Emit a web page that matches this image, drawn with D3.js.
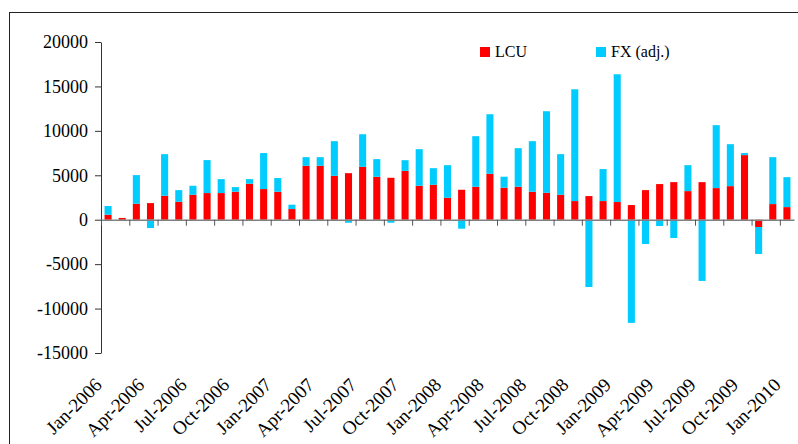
<!DOCTYPE html>
<html lang="en">
<head>
<meta charset="UTF-8">
<title>LCU and FX</title>
<style>
  body { margin: 0; background: #fff; }
  svg { display: block; }
</style>
</head>
<body>
<div id="chart"></div>
<script src="https://d3js.org/d3.v7.min.js"></script>
<script>
// monthly categories, Jan-2006 .. Jan-2010
const months = [
  "Jan-2006","Feb-2006","Mar-2006","Apr-2006","May-2006","Jun-2006","Jul-2006","Aug-2006","Sep-2006","Oct-2006","Nov-2006","Dec-2006",
  "Jan-2007","Feb-2007","Mar-2007","Apr-2007","May-2007","Jun-2007","Jul-2007","Aug-2007","Sep-2007","Oct-2007","Nov-2007","Dec-2007",
  "Jan-2008","Feb-2008","Mar-2008","Apr-2008","May-2008","Jun-2008","Jul-2008","Aug-2008","Sep-2008","Oct-2008","Nov-2008","Dec-2008",
  "Jan-2009","Feb-2009","Mar-2009","Apr-2009","May-2009","Jun-2009","Jul-2009","Aug-2009","Sep-2009","Oct-2009","Nov-2009","Dec-2009",
  "Jan-2010"
];
const lcu = [560,200,1800,1870,2700,2020,2810,3000,3000,3150,4050,3450,
             3150,1200,6070,6070,4940,5240,5950,4830,4720,5500,3820,3930,
             2470,3370,3710,5170,3600,3710,3150,3030,2810,2100,2660,2100,
             1990,1650,3330,4010,4230,3220,4230,3560,3780,7270,-820,1760,
             1420];
const fx = [980,0,3220,-940,4680,1310,1010,3710,1570,520,520,4050,
            1540,490,970,970,3900,-340,3670,1990,-340,1200,4120,1870,
            3670,-1010,5690,6700,1240,4340,5690,9180,4570,12580,-7570,3600,
            14380,-11610,-2730,-710,-2060,2920,-6890,7080,4720,230,-3030,5280,
            3370];
const yTicks = [-15000,-10000,-5000,0,5000,10000,15000,20000];
const seriesNames = ["LCU", "FX (adj.)"];
const seriesColors = ["#ff0000", "#00ccff"];

const W = 798, H = 444;
const margin = {left: 101, right: 794, top: 42, bottom: 353};
const serif = '"Liberation Serif", "Times New Roman", serif';

const svg = d3.select("#chart").append("svg")
  .attr("width", W).attr("height", H)
  .attr("font-family", serif);

// outer frame
svg.append("rect")
  .attr("x", 9.5).attr("y", 12.5)
  .attr("width", 900).attr("height", 600)
  .attr("fill", "none").attr("stroke", "#222").attr("stroke-width", 1);

const rows = months.map((m, i) => ({month: m, lcu: lcu[i], fx: fx[i]}));
const stacked = d3.stack().keys(["lcu", "fx"]).offset(d3.stackOffsetDiverging)(rows);

const x = d3.scaleBand().domain(months).range([margin.left, margin.right]).paddingInner(0.5).paddingOuter(0.25);
const xi = d3.scaleLinear().domain([0, months.length]).range([margin.left, margin.right]);
const y = d3.scaleLinear().domain([-15000, 20000]).range([margin.bottom, margin.top]);

// bars
svg.append("g").selectAll("g")
  .data(stacked)
  .join("g")
    .attr("fill", (d, i) => seriesColors[i])
  .selectAll("rect")
  .data(d => d)
  .join("rect")
    .attr("x", d => x(d.data.month))
    .attr("width", x.bandwidth())
    .attr("y", d => y(Math.max(d[0], d[1])))
    .attr("height", d => Math.abs(y(d[0]) - y(d[1])));

// y axis
const yAxis = svg.append("g")
  .attr("transform", `translate(${margin.left},0)`)
  .call(d3.axisLeft(y).tickValues(yTicks).tickSize(6).tickPadding(7).tickSizeOuter(0).tickFormat(d => String(d)))
  .attr("font-family", serif)
  .attr("font-size", 18);
yAxis.select(".domain").attr("stroke", "#333");
yAxis.selectAll(".tick line").attr("stroke", "#333");
yAxis.selectAll("text").attr("fill", "#000");

// zero line with category ticks
const xAxis = svg.append("g")
  .attr("transform", `translate(0,${y(0)})`)
  .call(d3.axisBottom(xi).tickValues(d3.range(0, months.length + 1, 2)).tickSize(6).tickSizeOuter(0).tickFormat(""));
xAxis.select(".domain").attr("stroke", "#808080").attr("stroke-width", 1.5);
xAxis.selectAll(".tick line").attr("stroke", "#555");

// rotated category labels, every third month
svg.append("g").selectAll("text")
  .data(months.filter((m, i) => i % 3 === 0))
  .join("text")
    .attr("transform", d => `translate(${x(d) + x.bandwidth() / 2 - 5},${margin.bottom + 33}) rotate(-45)`)
    .attr("text-anchor", "end")
    .attr("font-size", 19)
    .attr("fill", "#000")
    .text(d => d);

// legend
const legendX = [480, 596];
seriesNames.forEach((name, i) => {
  svg.append("rect")
    .attr("x", legendX[i]).attr("y", 47)
    .attr("width", 10).attr("height", 10)
    .attr("fill", seriesColors[i]);
  svg.append("text")
    .attr("x", legendX[i] + 15).attr("y", 57)
    .attr("font-size", 16).attr("fill", "#000")
    .text(name);
});
</script>
</body>
</html>
